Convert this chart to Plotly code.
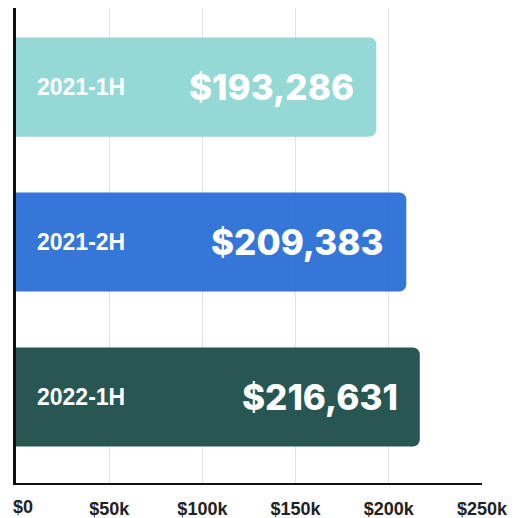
import plotly.graph_objects as go

categories = ["2021-1H", "2021-2H", "2022-1H"]
values = [193286, 209383, 216631]
value_labels = ["$193,286", "$209,383", "$216,631"]
colors = ["#8fd8d3", "#2b6fd7", "#1d4e49"]
tick_vals = [0, 50000, 100000, 150000, 200000, 250000]
tick_text = ["$0", "$50k", "$100k", "$150k", "$200k", "$250k"]

tick_font = dict(family="Liberation Sans", size=18, color="#222", weight="bold")

# the first label sits right of the axis line in the reference: draw it as a left-anchored note
display_ticks = [""] + tick_text[1:]

fig = go.Figure()
fig.add_trace(go.Bar(
    y=categories, x=values, orientation="h",
    marker=dict(color=colors, line=dict(width=0)),
    opacity=0.95, width=0.64, hoverinfo="skip",
))

for c, v, lbl in zip(categories, values, value_labels):
    fig.add_annotation(x=0, y=c, text=c, showarrow=False, xanchor="left", xshift=19,
                       font=dict(family="Liberation Sans", size=23, color="white", weight="bold"))
    fig.add_annotation(x=v, y=c, text=lbl, showarrow=False, xanchor="right", xshift=-20,
                       font=dict(family="Inter", size=35, color="white", weight=800))

fig.add_annotation(x=tick_vals[0], y=0, yref="paper", text=tick_text[0], showarrow=False,
                   xanchor="left", yanchor="top", xshift=-4, yshift=-13, borderpad=0,
                   font=tick_font)

fig.update_layout(
    width=510, height=510,
    margin=dict(l=8, r=36, t=0, b=35),
    plot_bgcolor="white", paper_bgcolor="white",
    barcornerradius=7,
    showlegend=False,
    xaxis=dict(range=[0, 250000], tickvals=tick_vals, ticktext=display_ticks,
               showgrid=True, gridcolor="#e2e2e2", gridwidth=1, zeroline=False,
               showline=True, linecolor="#111", linewidth=2, automargin=False,
               tickfont=tick_font, ticks="", ticklabelstandoff=8),
    yaxis=dict(categoryorder="array", categoryarray=categories,
               range=[2.555, -0.51], showticklabels=False, showgrid=False, automargin=False,
               showline=True, linecolor="#111", linewidth=2.5, zeroline=False, ticks=""),
)

fig.write_html("out.html")
